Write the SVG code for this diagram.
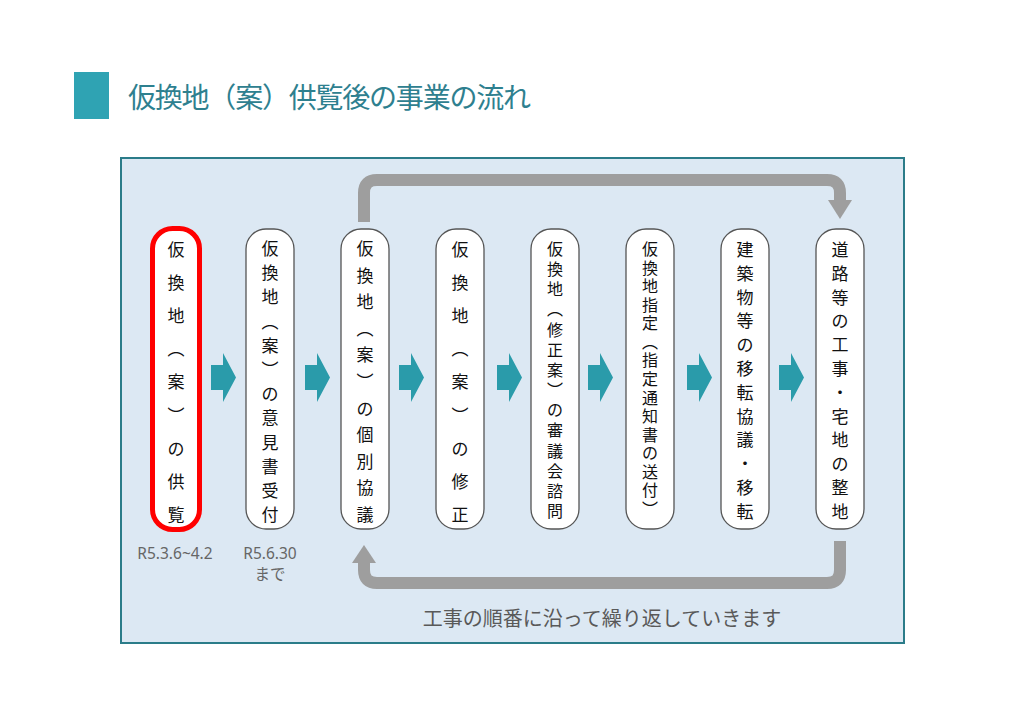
<svg xmlns="http://www.w3.org/2000/svg" xmlns:xlink="http://www.w3.org/1999/xlink" width="1024" height="724" viewBox="0 0 1024 724">
<style>
.box{fill:#fff;stroke:#555;stroke-width:1.3}
.red{fill:#fff;stroke:#F00;stroke-width:5}
.ch{font-family:"Noto Sans CJK JP","Noto Sans",sans-serif;font-size:17px;fill:#111;text-anchor:middle;dominant-baseline:central}
.sm{font-size:16px}
.lbl{font-family:"Noto Sans","Noto Sans CJK JP",sans-serif;font-size:15.5px;fill:#666;text-anchor:middle}
.conn{fill:none;stroke:#9E9E9E;stroke-width:12}
.head{fill:#9E9E9E}
.arr{fill:#2A9BAA}
</style>
<defs>
<path id="arr" d="M0,365 H12 V353 L25,377.5 L12,402 V390 H0 Z"/>
</defs>
<rect x="0" y="0" width="1024" height="724" fill="#fff"/>
<g id="title">
<rect x="74" y="72" width="35" height="47" fill="#2FA3B3"/>
<text x="128" y="108" font-family="Noto Sans CJK JP,sans-serif" font-size="28" fill="#2E808F" textLength="403">仮換地（案）供覧後の事業の流れ</text>
</g>
<rect id="panel" x="121" y="158" width="783" height="485" fill="#DCE8F3" stroke="#2B7C89" stroke-width="2"/>
<g id="connectors">
<path class="conn" d="M364,222 V193 Q364,180 377,180 H827 Q840,180 840,193 V201"/>
<polygon class="head" points="828,200 852,200 840,219"/>
<path class="conn" d="M840,541 V570 Q840,583 827,583 H377 Q364,583 364,570 V562"/>
<polygon class="head" points="352,563 376,563 364,545"/>
<use xlink:href="#arr" x="211" class="arr"/>
<use xlink:href="#arr" x="305" class="arr"/>
<use xlink:href="#arr" x="399" class="arr"/>
<use xlink:href="#arr" x="497" class="arr"/>
<use xlink:href="#arr" x="588" class="arr"/>
<use xlink:href="#arr" x="687" class="arr"/>
<use xlink:href="#arr" x="779" class="arr"/>
</g>
<g id="n1">
<rect class="red" x="152.5" y="228.5" width="47" height="301" rx="20"/>
<text class="ch" x="176" y="248">仮</text><text class="ch" x="176" y="281">換</text><text class="ch" x="176" y="314">地</text><text class="ch" x="176" y="347">︵</text><text class="ch" x="176" y="380">案</text><text class="ch" x="176" y="414">︶</text><text class="ch" x="176" y="447">の</text><text class="ch" x="176" y="480">供</text><text class="ch" x="176" y="513">覧</text>
<text class="lbl" x="175" y="559">R5.3.6~4.2</text>
</g>
<g id="n2">
<rect class="box" x="246" y="229" width="48" height="300" rx="20"/>
<text class="ch" x="270" y="247">仮</text><text class="ch" x="270" y="271">換</text><text class="ch" x="270" y="295">地</text><text class="ch" x="270" y="320">︵</text><text class="ch" x="270" y="344">案</text><text class="ch" x="270" y="368">︶</text><text class="ch" x="270" y="392">の</text><text class="ch" x="270" y="416">意</text><text class="ch" x="270" y="441">見</text><text class="ch" x="270" y="465">書</text><text class="ch" x="270" y="489">受</text><text class="ch" x="270" y="513">付</text>
<text class="lbl" x="270" y="559">R5.6.30</text>
<text class="lbl" x="270" y="580">まで</text>
</g>
<g id="n3">
<rect class="box" x="341" y="229" width="48" height="300" rx="20"/>
<text class="ch" x="365" y="247">仮</text><text class="ch" x="365" y="274">換</text><text class="ch" x="365" y="300">地</text><text class="ch" x="365" y="327">︵</text><text class="ch" x="365" y="353">案</text><text class="ch" x="365" y="380">︶</text><text class="ch" x="365" y="407">の</text><text class="ch" x="365" y="433">個</text><text class="ch" x="365" y="460">別</text><text class="ch" x="365" y="486">協</text><text class="ch" x="365" y="513">議</text>
</g>
<g id="n4">
<rect class="box" x="436" y="229" width="48" height="300" rx="20"/>
<text class="ch" x="460" y="248">仮</text><text class="ch" x="460" y="281">換</text><text class="ch" x="460" y="314">地</text><text class="ch" x="460" y="347">︵</text><text class="ch" x="460" y="380">案</text><text class="ch" x="460" y="414">︶</text><text class="ch" x="460" y="447">の</text><text class="ch" x="460" y="480">修</text><text class="ch" x="460" y="513">正</text>
</g>
<g id="n5">
<rect class="box" x="531" y="229" width="48" height="300" rx="20"/>
<text class="ch sm" x="555" y="248">仮</text><text class="ch sm" x="555" y="268">換</text><text class="ch sm" x="555" y="288">地</text><text class="ch sm" x="555" y="308">︵</text><text class="ch sm" x="555" y="329">修</text><text class="ch sm" x="555" y="349">正</text><text class="ch sm" x="555" y="369">案</text><text class="ch sm" x="555" y="389">︶</text><text class="ch sm" x="555" y="409">の</text><text class="ch sm" x="555" y="429">審</text><text class="ch sm" x="555" y="450">議</text><text class="ch sm" x="555" y="470">会</text><text class="ch sm" x="555" y="490">諮</text><text class="ch sm" x="555" y="510">問</text>
</g>
<g id="n6">
<rect class="box" x="626" y="229" width="48" height="300" rx="20"/>
<text class="ch sm" x="650" y="248">仮</text><text class="ch sm" x="650" y="267">換</text><text class="ch sm" x="650" y="285">地</text><text class="ch sm" x="650" y="304">指</text><text class="ch sm" x="650" y="322">定</text><text class="ch sm" x="650" y="341">︵</text><text class="ch sm" x="650" y="359">指</text><text class="ch sm" x="650" y="378">定</text><text class="ch sm" x="650" y="397">通</text><text class="ch sm" x="650" y="415">知</text><text class="ch sm" x="650" y="434">書</text><text class="ch sm" x="650" y="452">の</text><text class="ch sm" x="650" y="471">送</text><text class="ch sm" x="650" y="489">付</text><text class="ch sm" x="650" y="508">︶</text>
</g>
<g id="n7">
<rect class="box" x="721" y="229" width="48" height="300" rx="20"/>
<text class="ch" x="745" y="248">建</text><text class="ch" x="745" y="272">築</text><text class="ch" x="745" y="296">物</text><text class="ch" x="745" y="319">等</text><text class="ch" x="745" y="343">の</text><text class="ch" x="745" y="367">移</text><text class="ch" x="745" y="391">転</text><text class="ch" x="745" y="415">協</text><text class="ch" x="745" y="438">議</text><text class="ch" x="745" y="462">・</text><text class="ch" x="745" y="486">移</text><text class="ch" x="745" y="510">転</text>
</g>
<g id="n8">
<rect class="box" x="816" y="229" width="48" height="300" rx="20"/>
<text class="ch" x="840" y="248">道</text><text class="ch" x="840" y="272">路</text><text class="ch" x="840" y="296">等</text><text class="ch" x="840" y="319">の</text><text class="ch" x="840" y="343">工</text><text class="ch" x="840" y="367">事</text><text class="ch" x="840" y="391">・</text><text class="ch" x="840" y="415">宅</text><text class="ch" x="840" y="438">地</text><text class="ch" x="840" y="462">の</text><text class="ch" x="840" y="486">整</text><text class="ch" x="840" y="510">地</text>
</g>
<text id="note" x="602" y="626" font-family="Noto Sans CJK JP,sans-serif" font-size="20" fill="#595959" text-anchor="middle">工事の順番に沿って繰り返していきます</text>
</svg>
